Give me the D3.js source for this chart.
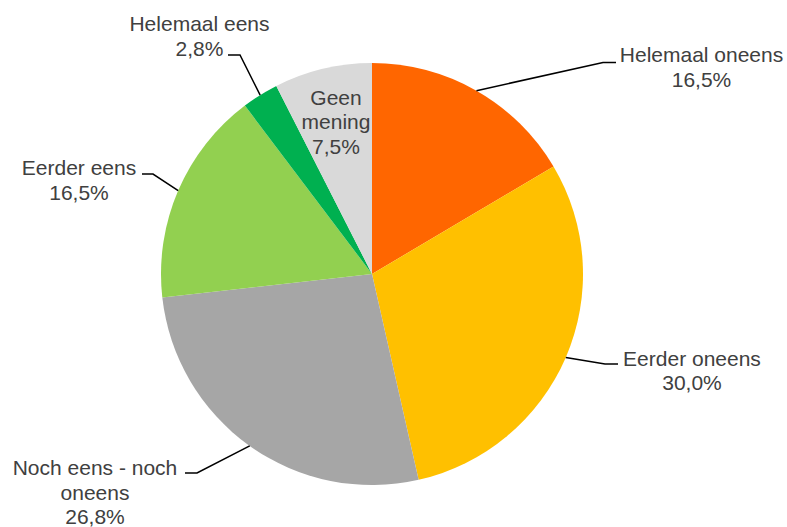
<!DOCTYPE html>
<html>
<head>
<meta charset="utf-8">
<script src="https://cdn.jsdelivr.net/npm/d3@7"></script>
<style>
  html, body { margin: 0; padding: 0; background: #fff; }
  svg { display: block; }
  text { font-family: "Liberation Sans", Arial, sans-serif; font-size: 21px; fill: #404040; }
</style>
</head>
<body>
<svg id="chart" width="787" height="527"></svg>
<script>
// Answer categories, in clockwise order from 12 o'clock
const categories = ["Helemaal oneens", "Eerder oneens", "Noch eens - noch oneens", "Eerder eens", "Helemaal eens", "Geen mening"];
// Share of respondents (%)
const values = [16.5, 30.0, 26.8, 16.5, 2.8, 7.5];
// Label text lines per slice (name lines, then the percentage is appended)
const labelLines = [["Helemaal oneens"], ["Eerder oneens"], ["Noch eens - noch", "oneens"], ["Eerder eens"], ["Helemaal eens"], ["Geen", "mening"]];
const colors = ["#FF6600", "#FFC000", "#A6A6A6", "#92D050", "#00B050", "#D9D9D9"];

// Label placement: elbow of the leader line, end of its short horizontal tail,
// label centre x and first baseline. Slices without a leader have elbow = null.
const labelLayout = [
  { elbow: [603, 62.5], tail: 616, tx: 701.5, ty: 62 },
  { elbow: [605, 364], tail: 618, tx: 692, ty: 365.5 },
  { elbow: [197, 473], tail: 185, tx: 95, ty: 475 },
  { elbow: [153, 174], tail: 142, tx: 79, ty: 175 },
  { elbow: [240, 55], tail: 228, tx: 199.5, ty: 31 },
  { elbow: null, tail: null, tx: 336, ty: 104.5 }
];
const lineHeight = 24.5;

const cx = 372, cy = 274, radius = 211;
const svg = d3.select("#chart");
const g = svg.append("g").attr("transform", `translate(${cx},${cy})`);

const pie = d3.pie().sort(null).value(d => d.value);
const data = categories.map((c, i) => ({ name: c, value: values[i], color: colors[i], lines: labelLines[i], layout: labelLayout[i] }));
const arcs = pie(data);
const arc = d3.arc().innerRadius(0).outerRadius(radius);
const edge = d3.arc().innerRadius(radius).outerRadius(radius);

g.selectAll("path.slice")
  .data(arcs)
  .join("path")
  .attr("class", "slice")
  .attr("d", arc)
  .attr("fill", d => d.data.color);

const fmt = v => d3.format(".1f")(v).replace(".", ",") + "%";

// Leader lines from the slice's mid-angle on the rim to the label
arcs.filter(d => d.data.layout.elbow).forEach(d => {
  const [sx, sy] = edge.centroid(d);
  const L = d.data.layout;
  svg.append("polyline")
    .attr("points", [[cx + sx, cy + sy], L.elbow, [L.tail, L.elbow[1]]].map(p => p.join(",")).join(" "))
    .attr("fill", "none")
    .attr("stroke", "#000")
    .attr("stroke-width", 1.5);
});

// Labels
arcs.forEach(d => {
  const L = d.data.layout;
  const lines = d.data.lines.concat([fmt(d.data.value)]);
  const t = svg.append("text").attr("text-anchor", "middle");
  lines.forEach((ln, i) => {
    t.append("tspan").attr("x", L.tx).attr("y", L.ty + i * lineHeight).text(ln);
  });
});
</script>
</body>
</html>
